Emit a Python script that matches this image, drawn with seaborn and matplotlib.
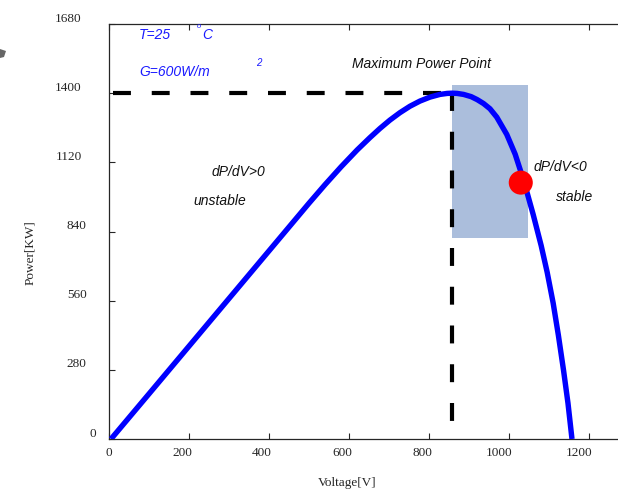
import matplotlib
matplotlib.use("Agg")
import matplotlib.pyplot as plt
import matplotlib.transforms as mtransforms
from matplotlib.patches import Polygon
import pandas as pd
import seaborn as sns

# P-V characteristic of the PV array (T = 25 °C, G = 600 W/m²)
voltage = [5, 100, 200, 300, 400, 500, 540, 580, 620, 652, 677, 702, 727,
           752, 777, 802, 827, 845, 857, 870, 886, 905, 920, 936, 952, 969,
           994, 1015, 1030, 1044, 1060, 1080, 1095, 1110, 1123, 1136, 1147,
           1157]
power = [0, 183, 376, 569, 762, 955, 1030, 1102, 1170, 1220, 1257, 1291, 1321,
         1347, 1368, 1384, 1395, 1399, 1400, 1399, 1395, 1386, 1374, 1358,
         1337, 1303, 1233, 1153, 1078, 1002, 909, 783, 675, 550, 420, 277,
         145, 0]

# maximum power point and current operating point
mpp_voltage = 857
mpp_power = 1400
op_voltage = [1029]
op_power = [1038]

# stable operating region (right of the MPP)
stable_v = [857, 1047]
stable_p = [813, 1432]

x_ticks = [0, 200, 400, 600, 800, 1000, 1200]
y_ticks = [0, 280, 560, 840, 1120, 1400, 1680]

sns.set_theme(style="ticks")
serif = ["Liberation Serif", "DejaVu Serif"]
sans = ["Liberation Sans", "DejaVu Sans"]

fig = plt.figure(figsize=(6.18, 4.94), dpi=100)
fig.patch.set_facecolor("white")
ax = fig.add_axes([0.1764, 0.1113, 0.8236, 0.8401])
ax.set_facecolor("white")

curve = pd.DataFrame({"Voltage": voltage, "Power": power})

# shaded stable region
ax.fill_between(stable_v, stable_p[0], stable_p[1], color="#abbedc",
                linewidth=0, zorder=1)

# dashed guides to the MPP
guide_h = pd.DataFrame({"v": [10, mpp_voltage], "p": [mpp_power, mpp_power]})
guide_v = pd.DataFrame({"v": [mpp_voltage, mpp_voltage], "p": [mpp_power, 0]})
for g in (guide_h, guide_v):
    sns.lineplot(data=g, x="v", y="p", ax=ax, color="black", linewidth=3.0,
                 sort=False, estimator=None, zorder=2,
                 linestyle=(0, (4.3, 5.0)))

# P-V curve
sns.lineplot(data=curve, x="Voltage", y="Power", ax=ax, color="#0000ff",
             linewidth=3.9, sort=False, estimator=None, zorder=3,
             solid_joinstyle="round", solid_capstyle="butt")

# operating point
sns.scatterplot(x=op_voltage, y=op_power, ax=ax, color="#ff0000", s=300,
                edgecolor="none", zorder=4)

ax.set_xlim(0, 1272)
ax.set_ylim(0, 1680)
ax.set_xticks(x_ticks, labels=[str(v) for v in x_ticks])
ax.set_yticks(y_ticks, labels=[str(v) for v in y_ticks])

for side in ("left", "bottom", "top"):
    ax.spines[side].set_visible(True)
    ax.spines[side].set_color("#262626")
    ax.spines[side].set_linewidth(0.9)
ax.spines["right"].set_visible(False)

ax.tick_params(axis="both", direction="in", length=4, width=0.8,
               colors="#262626", labelcolor="#262626", labelsize=9.5)
ax.tick_params(axis="x", top=True, pad=6)
ax.tick_params(axis="y", pad=9.4)

for lab in ax.get_xticklabels():
    lab.set_fontfamily(serif)
    lab.set_ha("right")
    lab.set_transform(lab.get_transform() + mtransforms.ScaledTranslation(
        3 / 100, 0, fig.dpi_scale_trans))
for lab in ax.get_yticklabels():
    lab.set_fontfamily(serif)
    shift = -4.7 * (len(lab.get_text()) - 1)
    lab.set_transform(lab.get_transform() + mtransforms.ScaledTranslation(
        shift / 100, 7 / 100, fig.dpi_scale_trans))

ax.set_xlabel("Voltage[V]", fontfamily=serif, fontsize=9.5, color="#262626")
ax.set_ylabel("Power[KW]", fontfamily=serif, fontsize=9.5, color="#262626")
ax.xaxis.set_label_coords(0.4676, -0.106)
ax.yaxis.set_label_coords(-0.155, 0.45)
ax.xaxis.label.set_va("center")
ax.yaxis.label.set_va("center")

# annotations
blue = "#1a1aff"
txt = dict(fontfamily=sans, style="italic", ha="left", va="center")
ax.text(75, 1634, "T=25", color=blue, fontsize=10, **txt)
ax.text(220, 1671, "o", color=blue, fontsize=5.5, **txt)
ax.text(233, 1634, "C", color=blue, fontsize=10, **txt)
ax.text(75, 1485, "G=600W/m", color=blue, fontsize=10, **txt)
ax.text(368, 1521, "2", color=blue, fontsize=7, **txt)
ax.text(607, 1517, "Maximum Power Point", color="#111111", fontsize=10, **txt)
ax.text(257, 1080, "dP/dV>0", color="#111111", fontsize=10, **txt)
ax.text(210, 963, "unstable", color="#111111", fontsize=10, **txt)
ax.text(1060, 1100, "dP/dV<0", color="#111111", fontsize=10, **txt)
ax.text(1117, 979, "stable", color="#111111", fontsize=10, **txt)

# small grey pointer at the upper-left edge
fig.add_artist(Polygon([(0 / 618, 1 - 49 / 494), (6 / 618, 1 - 51 / 494),
                        (4 / 618, 1 - 57 / 494), (0 / 618, 1 - 58 / 494)],
                       closed=True, transform=fig.transFigure,
                       facecolor="#666666", edgecolor="none"))

fig.savefig("out.png", dpi=100)
